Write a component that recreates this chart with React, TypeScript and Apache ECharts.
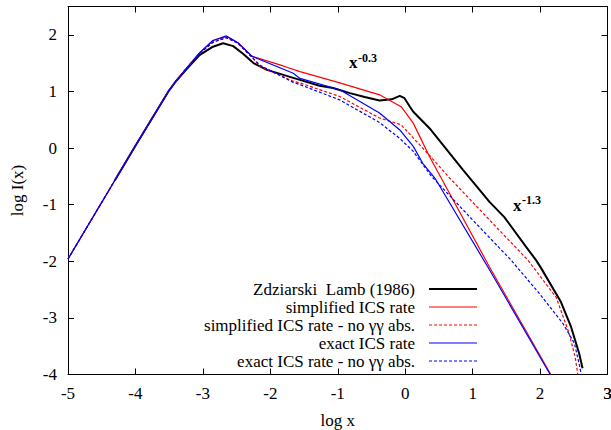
import React, { useEffect, useRef } from "react";
import * as echarts from "echarts";

const xTicks = [-5, -4, -3, -2, -1, 0, 1, 2, 3];
const yTicks = [-4, -3, -2, -1, 0, 1, 2];

const legendLabels = [
  "Zdziarski  Lamb (1986)",
  "simplified ICS rate",
  "simplified ICS rate - no γγ abs.",
  "exact ICS rate",
  "exact ICS rate - no γγ abs.",
];

// Zdziarski & Lamb (1986)
const zlX = [-4.3, -4.0, -3.5, -3.4, -3.25, -3.05, -2.85, -2.7, -2.55, -2.4, -2.25, -2.05, -1.66, -1.27, -1.07, -0.82, -0.6, -0.38, -0.2, -0.08, -0.01, 0.07, 0.12, 0.36, 0.86, 1.25, 1.47, 1.79, 1.94, 2.02, 2.31, 2.46, 2.58, 2.63];
const zlY = [-0.56, 0.04, 1.02, 1.18, 1.38, 1.64, 1.79, 1.85, 1.8, 1.66, 1.5, 1.38, 1.24, 1.1, 1.06, 0.97, 0.9, 0.84, 0.86, 0.92, 0.88, 0.73, 0.64, 0.35, -0.39, -0.95, -1.22, -1.74, -1.98, -2.13, -2.72, -3.16, -3.63, -3.89];

// simplified ICS rate
const simX = [-5, -4, -3.5, -3.4, -3.25, -3.05, -2.85, -2.65, -2.48, -2.27, -1.81, -1.56, -0.97, -0.38, -0.06, 0.12, 0.36, 1.25, 2.16];
const simY = [-1.96, 0.04, 1.02, 1.18, 1.4, 1.68, 1.9, 1.97, 1.86, 1.62, 1.45, 1.35, 1.15, 0.94, 0.73, 0.44, -0.15, -2.1, -4.0];

// simplified ICS rate - no gamma-gamma absorption
const simNoX = [-5, -4, -3.5, -3.4, -3.25, -3.05, -2.85, -2.65, -2.48, -2.27, -2.15, -1.66, -1.56, -0.97, -0.38, -0.06, 0.36, 0.66, 1.25, 1.82, 2.24, 2.43, 2.52, 2.56];
const simNoY = [-1.96, 0.04, 1.02, 1.18, 1.4, 1.67, 1.87, 1.95, 1.85, 1.6, 1.44, 1.18, 1.15, 0.91, 0.53, 0.41, -0.13, -0.53, -1.27, -1.98, -2.64, -3.27, -3.69, -4.0];

// exact ICS rate
const exX = [-5, -4, -3.5, -3.4, -3.25, -3.05, -2.85, -2.65, -2.48, -2.27, -1.66, -1.56, -0.97, -0.38, -0.08, 0.12, 0.26, 0.44, 1.25, 2.15];
const exY = [-1.96, 0.04, 1.02, 1.18, 1.4, 1.68, 1.9, 1.98, 1.86, 1.62, 1.32, 1.23, 1.03, 0.62, 0.32, 0.03, -0.27, -0.53, -2.15, -4.0];

// exact ICS rate - no gamma-gamma absorption
const exNoX = [-5, -4, -3.5, -3.4, -3.25, -3.05, -2.85, -2.65, -2.48, -2.27, -2.15, -1.66, -1.56, -0.97, -0.38, -0.08, 0.12, 0.39, 1.0, 1.57, 1.99, 2.34, 2.51, 2.59, 2.61];
const exNoY = [-1.96, 0.04, 1.02, 1.18, 1.4, 1.67, 1.87, 1.95, 1.85, 1.6, 1.46, 1.16, 1.12, 0.85, 0.45, 0.17, -0.06, -0.5, -1.27, -1.98, -2.57, -3.1, -3.45, -3.87, -4.0];

const zip = (xs: number[], ys: number[]) => xs.map((x, i) => [x, ys[i]]);

const FONT = "'Liberation Serif', 'Times New Roman', serif";

export default function App() {
  const ref = useRef<HTMLDivElement>(null);
  useEffect(() => {
    if (!ref.current) return;
    const chart = echarts.init(ref.current, undefined, { renderer: "svg" });
    const tickCommon = {
      show: true,
      inside: true,
      length: 6,
      lineStyle: { color: "#000", width: 1 },
    };
    const axisLine = { show: true, onZero: false, lineStyle: { color: "#000", width: 1 } };
    const fmt = (v: number) => (Number.isInteger(v) && (xTicks.includes(v) || yTicks.includes(v)) ? String(v) : "");
    const seriesDefs = [
      { name: legendLabels[0], data: zip(zlX, zlY), color: "#000000", width: 2, dash: "solid" },
      { name: legendLabels[1], data: zip(simX, simY), color: "#ff0000", width: 1.2, dash: "solid" },
      { name: legendLabels[2], data: zip(simNoX, simNoY), color: "#ff0000", width: 1.2, dash: [3, 2] },
      { name: legendLabels[3], data: zip(exX, exY), color: "#0000ff", width: 1.2, dash: "solid" },
      { name: legendLabels[4], data: zip(exNoX, exNoY), color: "#0000ff", width: 1.2, dash: [3, 2] },
    ];
    const legendY = [289, 307, 325, 343, 361];
    const legendGraphics: any[] = [];
    seriesDefs.forEach((s, i) => {
      legendGraphics.push({
        type: "text",
        x: 415,
        y: legendY[i],
        style: {
          text: s.name,
          font: `17px ${FONT}`,
          fill: "#000",
          align: "right",
          verticalAlign: "middle",
        },
      });
      legendGraphics.push({
        type: "line",
        shape: { x1: 429, y1: legendY[i], x2: 477, y2: legendY[i] },
        style: {
          stroke: s.color,
          lineWidth: s.width,
          lineDash: s.dash === "solid" ? null : s.dash,
        },
      });
    });
    chart.setOption({
      animation: false,
      backgroundColor: "#fff",
      grid: { left: 68, right: 3.5, top: 6.5, bottom: 55.5, show: false, containLabel: false, outerBoundsMode: "none" },
      xAxis: [
        {
          type: "value",
          min: -5,
          max: 3,
          interval: 1,
          position: "bottom",
          name: "log x",
          nameLocation: "middle",
          nameGap: 37,
          nameTextStyle: { fontFamily: FONT, fontSize: 17, color: "#000" },
          axisLine,
          axisTick: tickCommon,
          axisLabel: {
            fontFamily: FONT,
            fontSize: 17,
            color: "#000",
            margin: 10,
            formatter: fmt,
            showMinLabel: true,
            showMaxLabel: true,
            hideOverlap: false,
          },
          splitLine: { show: false },
        },
        {
          type: "value",
          min: -5,
          max: 3,
          interval: 1,
          position: "top",
          axisLine,
          axisTick: tickCommon,
          axisLabel: { show: false },
          splitLine: { show: false },
        },
      ],
      yAxis: [
        {
          type: "value",
          min: -4,
          max: 2.5,
          interval: 1,
          position: "left",
          name: "log I(x)",
          nameLocation: "middle",
          nameGap: 42,
          nameRotate: 90,
          nameTextStyle: { fontFamily: FONT, fontSize: 17, color: "#000" },
          axisLine,
          axisTick: tickCommon,
          axisLabel: { fontFamily: FONT, fontSize: 17, color: "#000", margin: 11, formatter: fmt, showMaxLabel: false },
          splitLine: { show: false },
        },
        {
          type: "value",
          min: -4,
          max: 2.5,
          interval: 1,
          position: "right",
          axisLine,
          axisTick: tickCommon,
          axisLabel: { show: false },
          splitLine: { show: false },
        },
      ],
      series: seriesDefs.map((s) => ({
        type: "line",
        name: s.name,
        data: s.data,
        xAxisIndex: 0,
        yAxisIndex: 0,
        showSymbol: false,
        symbol: "none",
        smooth: false,
        clip: true,
        lineStyle: { color: s.color, width: s.width, type: s.dash },
        itemStyle: { color: s.color },
      })),
      graphic: [
        ...legendGraphics,
        {
          type: "text",
          x: 607.5,
          y: 385,
          style: { text: String(xTicks[xTicks.length - 1]), font: `17px ${FONT}`, fill: "#000", align: "center", verticalAlign: "top" },
        },
        {
          type: "text",
          x: 349,
          y: 71,
          style: { text: "x", font: `bold 17px ${FONT}`, fill: "#000", verticalAlign: "bottom" },
        },
        {
          type: "text",
          x: 358,
          y: 64,
          style: { text: "-0.3", font: `bold 12px ${FONT}`, fill: "#000", verticalAlign: "bottom" },
        },
        {
          type: "text",
          x: 513,
          y: 214,
          style: { text: "x", font: `bold 17px ${FONT}`, fill: "#000", verticalAlign: "bottom" },
        },
        {
          type: "text",
          x: 522,
          y: 206,
          style: { text: "-1.3", font: `bold 12px ${FONT}`, fill: "#000", verticalAlign: "bottom" },
        },
      ],
    });
    return () => chart.dispose();
  }, []);
  return <div ref={ref} style={{ width: 611, height: 430, position: "absolute", left: 0, top: 0 }} />;
}
